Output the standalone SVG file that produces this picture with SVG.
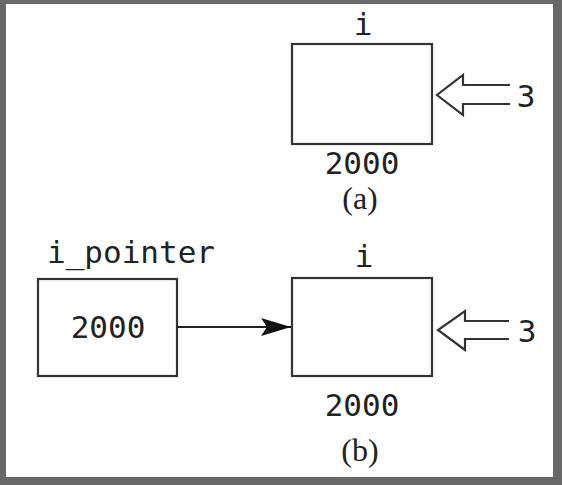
<svg xmlns="http://www.w3.org/2000/svg" width="562" height="485" viewBox="0 0 562 485">
<defs>
<style>
.box{fill:#fff;stroke:#333;stroke-width:2.2}
.mono{font-family:"DejaVu Sans Mono",monospace;font-size:31px;fill:#222;text-anchor:middle}
.cap{font-family:"Liberation Serif",serif;font-size:32px;fill:#222;text-anchor:middle}
.hollow{fill:none;stroke:#333;stroke-width:2.2;stroke-linejoin:miter}
.conn{stroke:#222;stroke-width:2;fill:none}
</style>
<marker id="arr" markerWidth="30" markerHeight="20" refX="30" refY="9" orient="auto" markerUnits="userSpaceOnUse">
<path d="M0,0 L30,9 L0,18 L6,9 Z" fill="#111"/>
</marker>
</defs>
<rect x="0" y="0" width="562" height="485" fill="#686868"/>
<rect x="6" y="4" width="547" height="473" fill="#fff"/>

<g id="node-a">
<text class="mono" x="363" y="35">i</text>
<rect class="box" x="292" y="44" width="140" height="100"/>
<text class="mono" x="362" y="174">2000</text>
<path class="hollow" d="M510,85 H463 V75 L437,95 L463,115 V104 H510"/>
<text class="mono" x="526" y="107">3</text>
<text class="cap" x="360" y="209">(a)</text>
</g>

<g id="node-pointer">
<text class="mono" x="131" y="263">i_pointer</text>
<rect class="box" x="38" y="279" width="139" height="97"/>
<text class="mono" x="108" y="338">2000</text>
</g>

<g id="node-b">
<text class="mono" x="364" y="267">i</text>
<rect class="box" x="292" y="278" width="140" height="98"/>
<text class="mono" x="362" y="416">2000</text>
<path class="hollow" d="M509,321 H465 V311 L438,330 L465,350 V339 H509"/>
<text class="mono" x="527" y="342">3</text>
<text class="cap" x="360" y="461">(b)</text>
</g>

<g id="connectors">
<line class="conn" x1="177" y1="327" x2="291" y2="327" marker-end="url(#arr)"/>
</g>
</svg>
